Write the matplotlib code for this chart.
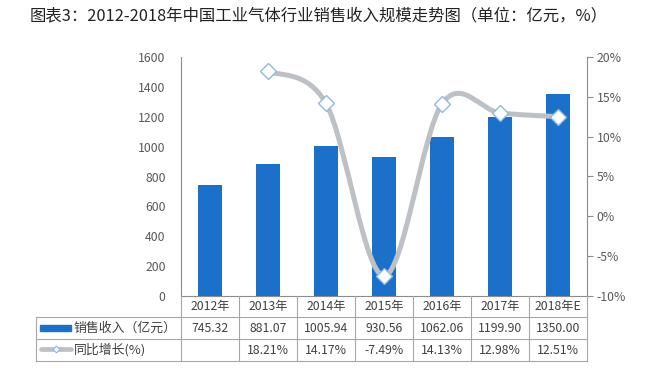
import matplotlib
matplotlib.use('Agg')
import matplotlib.pyplot as plt
import matplotlib.transforms as mtransforms
from matplotlib.path import Path
from matplotlib.patches import PathPatch, Rectangle
from matplotlib.lines import Line2D
import numpy as np

plt.rcParams['font.family'] = ['Noto Sans CJK SC', 'DejaVu Sans']

# data
years = ['2012年', '2013年', '2014年', '2015年', '2016年', '2017年', '2018年E']
sales = [745.32, 881.07, 1005.94, 930.56, 1062.06, 1199.90, 1350.00]
growth = [np.nan, 18.21, 14.17, -7.49, 14.13, 12.98, 12.51]
sales_txt = ['745.32', '881.07', '1005.94', '930.56', '1062.06', '1199.90', '1350.00']
growth_txt = ['', '18.21%', '14.17%', '-7.49%', '14.13%', '12.98%', '12.51%']

title = '图表3：2012-2018年中国工业气体行业销售收入规模走势图（单位：亿元，%）'

W, H = 655, 380
bar_c = '#1B71C9'
line_c = '#BDC0C4'
edge_c = '#8DB8E8'
grid_c = '#A6A6A6'
txt_c = '#404040'

fig = plt.figure(figsize=(W / 100, H / 100), dpi=100)
# plot area in pixels: x 181..587, y 57..296
ax = fig.add_axes([181 / W, 1 - 296 / H, (587 - 181) / W, (296 - 57) / H])
ax2 = ax.twinx()

x = np.arange(len(years))
ax.bar(x, sales, width=0.43, color=bar_c, zorder=2)
ax.set_xlim(-0.5, len(years) - 0.5)
ax.set_ylim(0, 1600)
ax.set_yticks(range(0, 1601, 200))
ax.set_xticks([])
ax.tick_params(axis='y', length=0, pad=11, labelsize=8.8, labelcolor='#595959')
for s in ['top', 'right']:
    ax.spines[s].set_visible(False)
ax.spines['left'].set_color('#8C8C8C')
ax.spines['bottom'].set_color('#8C8C8C')

ax2.set_ylim(-10, 20)
ax2.set_yticks(range(-10, 21, 5))
ax2.set_yticklabels(['%d%%' % v for v in range(-10, 21, 5)])
ax2.tick_params(axis='y', length=4, pad=3, labelsize=8.8, labelcolor='#595959',
                color='#8C8C8C')
for s in ['top', 'left', 'bottom']:
    ax2.spines[s].set_visible(False)
ax2.spines['right'].set_color('#8C8C8C')

# smoothed growth line (Excel style), drawn as cubic bezier segments
gx = x[1:].astype(float)
gy = np.array(growth[1:])
pts = np.column_stack([gx, gy])
ext = np.vstack([pts[0], pts, pts[-1]])
verts = [tuple(pts[0])]
codes = [Path.MOVETO]
for i in range(len(pts) - 1):
    p0, p1, p2, p3 = ext[i], ext[i + 1], ext[i + 2], ext[i + 3]
    c1 = p1 + (p2 - p0) / 6
    c2 = p2 - (p3 - p1) / 6
    verts += [tuple(c1), tuple(c2), tuple(p2)]
    codes += [Path.CURVE4] * 3
ax2.add_patch(PathPatch(Path(verts, codes), facecolor='none', edgecolor=line_c,
                        lw=3.6, capstyle='round', zorder=3))
ax2.plot(gx, gy, ls='none', marker='D', ms=8.5, mfc='white', mec=edge_c,
         mew=1.0, zorder=4)

# table below the plot
def fy(py):
    return 1 - py / H

bt = mtransforms.blended_transform_factory(ax.transData, fig.transFigure)
ft = fig.transFigure
rows = [296, 317, 339, 361]
for py in rows[1:]:
    fig.add_artist(Line2D([36 / W, 587 / W], [fy(py), fy(py)], color=grid_c,
                          lw=0.8, transform=ft))
fig.add_artist(Line2D([36 / W, 36 / W], [fy(317), fy(361)], color=grid_c,
                      lw=0.8, transform=ft))
for b in np.arange(-0.5, len(years), 1.0):
    fig.add_artist(Line2D([b, b], [fy(296), fy(361)], color=grid_c, lw=0.8,
                          transform=bt))

for i in range(len(years)):
    fig.text(x[i], fy(306.5), years[i], transform=bt, ha='center', va='center',
             fontsize=8.8, color=txt_c)
    fig.text(x[i], fy(328), sales_txt[i], transform=bt, ha='center', va='center',
             fontsize=8.8, color=txt_c)
    fig.text(x[i], fy(350), growth_txt[i], transform=bt, ha='center', va='center',
             fontsize=8.8, color=txt_c)

# legend keys inside the table
fig.add_artist(Rectangle((40 / W, fy(331)), 31 / W, 6 / H, color=bar_c,
                         transform=ft))
fig.text(74 / W, fy(328), '销售收入（亿元）', fontsize=9.3, color=txt_c,
         va='center', ha='left')
fig.add_artist(Line2D([41 / W, 71 / W], [fy(348.5), fy(348.5)], color=line_c,
                      lw=3.4, solid_capstyle='round', transform=ft))
fig.add_artist(Line2D([56 / W], [fy(348.5)], marker='D', ms=3.5, mfc='white',
                      mec=edge_c, mew=0.8, transform=ft))
fig.text(74 / W, fy(350), '同比增长(%)', fontsize=9.3, color=txt_c,
         va='center', ha='left')

fig.text(30 / W, fy(16), title, fontsize=11.8, color='#222222', va='center',
         ha='left')

fig.savefig('out.png', dpi=100, facecolor='white')
